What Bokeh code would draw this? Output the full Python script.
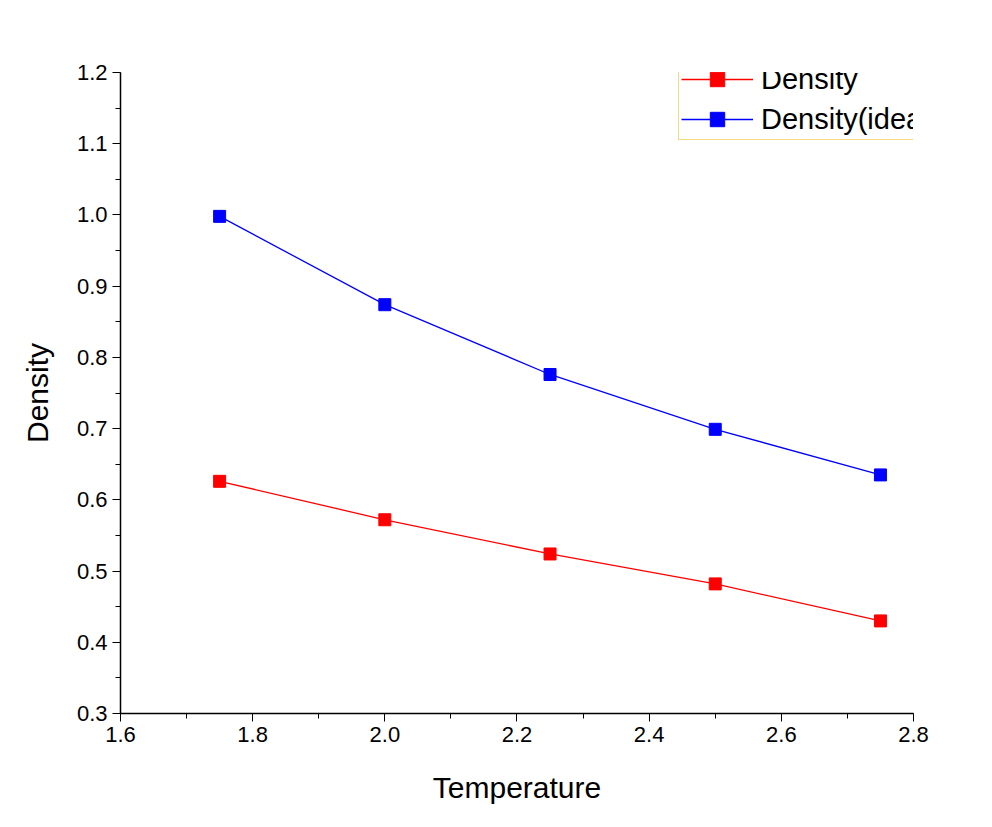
from bokeh.plotting import figure
from bokeh.models import Legend, LegendItem, SingleIntervalTicker, Range1d, NumeralTickFormatter
from bokeh.embed import file_html
from bokeh.resources import INLINE

temperature = [1.75, 2.0, 2.25, 2.5, 2.75]
density = [0.626, 0.572, 0.524, 0.482, 0.430]
density_ideal = [0.998, 0.874, 0.776, 0.699, 0.635]

p = figure(width=976, height=811, output_backend="svg", toolbar_location=None,
           x_range=Range1d(1.6, 2.80001), y_range=Range1d(0.3, 1.20001),
           min_border_left=120, min_border_right=63, min_border_top=72, min_border_bottom=98)
p.outline_line_color = None
p.grid.visible = False
p.background_fill_color = "white"

FONT = "Liberation Sans"
p.xaxis.ticker = SingleIntervalTicker(interval=0.2, num_minor_ticks=2)
p.yaxis.ticker = SingleIntervalTicker(interval=0.1, num_minor_ticks=2)
for ax in (p.xaxis, p.yaxis):
    ax.formatter = NumeralTickFormatter(format="0.0")
    ax.major_label_text_font = FONT
    ax.major_label_text_font_size = "22px"
    ax.major_label_text_color = "black"
    ax.axis_label_text_font = FONT
    ax.axis_label_text_font_size = "30px"
    ax.axis_label_text_color = "black"
    ax.axis_label_text_font_style = "normal"
    ax.axis_line_color = "black"
    ax.axis_line_width = 1.5
    ax.major_tick_line_color = "black"
    ax.minor_tick_line_color = "black"
    ax.major_tick_out = 8
    ax.major_tick_in = 0
    ax.minor_tick_out = 5
    ax.minor_tick_in = 0
p.xaxis.axis_label = "Temperature"
p.yaxis.axis_label = "Density"
p.xaxis.axis_label_standoff = 26
p.yaxis.axis_label_standoff = 20

r1 = p.line(temperature, density, color="#ff0000", line_width=1.3)
s1 = p.scatter(temperature, density, marker="square", size=12, color="#ff0000")
r2 = p.line(temperature, density_ideal, color="#0000ff", line_width=1.3)
s2 = p.scatter(temperature, density_ideal, marker="square", size=12, color="#0000ff")

legend = Legend(items=[LegendItem(label="Density", renderers=[r1, s1]),
                       LegendItem(label="Density(ideal)", renderers=[r2, s2])],
                location=(558, 573), label_text_font=FONT, label_text_font_size="29px",
                label_text_color="black",
                border_line_color="#e8b400", border_line_width=1.5,
                background_fill_alpha=0, padding=2, spacing=4, glyph_width=72,
                label_standoff=8, margin=0, label_height=36, glyph_height=36)
p.add_layout(legend, "center")

open("out.html", "w").write(file_html(p, INLINE))
